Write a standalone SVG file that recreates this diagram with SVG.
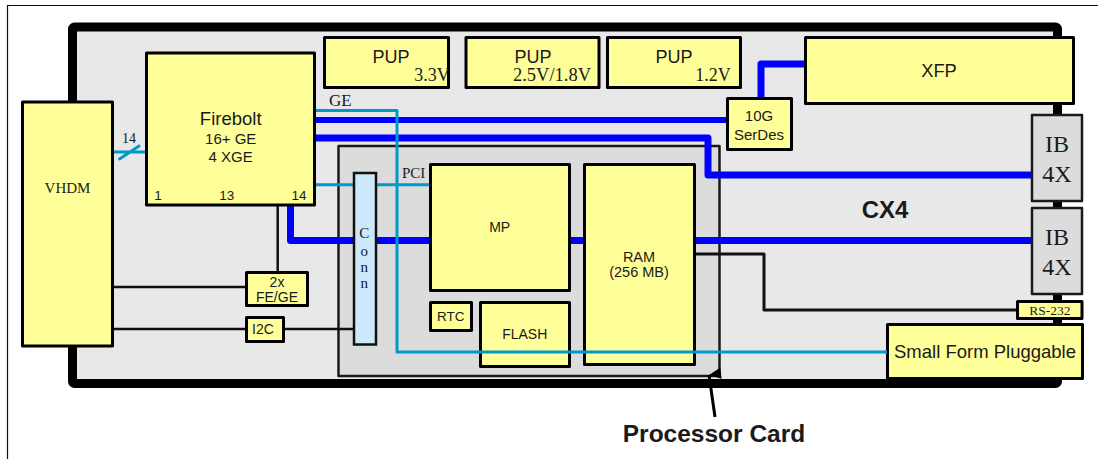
<svg xmlns="http://www.w3.org/2000/svg" width="1098" height="459" viewBox="0 0 1098 459">
<style>
.b{fill:#ffff99;stroke:#000;stroke-width:3;stroke-linejoin:round}
.g{fill:#dcdcdc;stroke:#1a1a1a;stroke-width:2.5;stroke-linejoin:round}
text{fill:#1a1a1a;text-anchor:middle;font-family:"Liberation Sans",Arial,sans-serif}
.s{font-family:"Liberation Serif","Times New Roman",serif}
.l{fill:none;stroke-linejoin:round}
.blue{stroke:#0000ff;stroke-width:7}
.cy{stroke:#0099cc;stroke-width:3}
.k{stroke:#111;stroke-width:2.5}
</style>
<defs><marker id="ah" markerUnits="userSpaceOnUse" markerWidth="12" markerHeight="14" refX="6" refY="0" orient="auto" overflow="visible"><path d="M-5.5 12L0 0L5.5 12Z" transform="translate(6 0)" fill="#000"/></marker></defs>
<rect width="1098" height="459" fill="#fff"/>
<path d="M7.5 459V5.5H1098" fill="none" stroke="#111" stroke-width="1.2"/>
<g id="board"><rect x="72.500" y="27" width="985" height="356.500" rx="2" fill="#e8e8e8" stroke="#000" stroke-width="9" stroke-linejoin="round"/>
<text x="885" y="218" font-size="24" font-weight="bold">CX4</text></g>
<g id="processor-card"><rect x="338.500" y="146" width="381" height="230" class="g" fill="#dcdcdc"/></g>
<g id="connectors">
<path class="l cy" d="M114 152H146"/>
<path d="M119.500 159L139 146" fill="none" stroke="#0099cc" stroke-width="3" stroke-linecap="round"/>
<path class="l cy" d="M316 184.700H430"/>
<path class="l blue" style="stroke-width:6" d="M316 120H727"/>
<path class="l blue" d="M316 138H708V175H1032"/>
<path class="l blue" d="M290.500 206V240.500H1032"/>
<path class="l blue" d="M761 98V64H805"/>
<path class="l k" d="M277.700 206V272"/>
<path class="l k" d="M114 287H246"/>
<path class="l k" d="M114 329H354"/>
<path class="l k" style="stroke-width:3" d="M695 254H764V310H1017"/>
<path d="M715 417L709 375" stroke="#000" stroke-width="3" fill="none" marker-end="url(#ah)"/>
</g>
<g id="vhdm"><rect class="b" x="22.500" y="102" width="90" height="244"/><text class="s" x="67.500" y="192.500" font-size="15">VHDM</text></g>
<g id="firebolt"><rect class="b" x="146.500" y="53" width="168" height="152"/>
<text x="230.700" y="125" font-size="18.500">Firebolt</text><text x="230.700" y="144" font-size="15">16+ GE</text><text x="230.700" y="162" font-size="15">4 XGE</text>
<text x="158" y="200" font-size="13.500">1</text><text x="226.700" y="200" font-size="13.500">13</text><text x="299" y="200" font-size="13.500">14</text></g>
<g id="pup1"><rect class="b" x="324.500" y="37.500" width="124" height="50"/><text x="391" y="63" font-size="18">PUP</text><text class="s" x="432" y="81" font-size="18">3.3V</text></g>
<g id="pup2"><rect class="b" x="466" y="37.500" width="133" height="50"/><text x="533" y="63" font-size="18">PUP</text><text class="s" x="552" y="81" font-size="18.500">2.5V/1.8V</text></g>
<g id="pup3"><rect class="b" x="607.500" y="37.500" width="133" height="50"/><text x="674" y="63" font-size="18">PUP</text><text class="s" x="713" y="81" font-size="18">1.2V</text></g>
<g id="xfp"><rect class="b" x="805.500" y="37.500" width="268" height="66"/><text x="939" y="77" font-size="18.300">XFP</text></g>
<g id="serdes"><rect class="b" x="727.500" y="98.500" width="64" height="51"/><text x="759" y="121" font-size="15">10G</text><text x="759" y="140" font-size="15">SerDes</text></g>
<g id="ib1"><rect class="g" x="1032" y="115" width="50" height="86"/><text class="s" x="1057" y="152" font-size="24">IB</text><text class="s" x="1057" y="182" font-size="24">4X</text></g>
<g id="ib2"><rect class="g" x="1032" y="208" width="50" height="86"/><text class="s" x="1057" y="245" font-size="24">IB</text><text class="s" x="1057" y="275" font-size="24">4X</text></g>
<g id="rs232"><rect class="b" x="1017.500" y="301.500" width="64.500" height="17"/><text class="s" x="1050" y="315" font-size="13.500">RS-232</text></g>
<g id="sfp"><rect class="b" x="887.500" y="324.500" width="195" height="54"/><text x="985" y="358" font-size="18.500">Small Form Pluggable</text></g>
<g id="fe-ge"><rect class="b" x="246.500" y="272.500" width="61" height="33"/><text x="277" y="287" font-size="14">2x</text><text x="277" y="302" font-size="14">FE/GE</text></g>
<g id="i2c"><rect class="b" x="246.500" y="317.500" width="37" height="24"/><text x="263" y="334" font-size="14">I2C</text></g>
<g id="conn"><rect x="354" y="173" width="22" height="171.500" fill="#cce8fb" stroke="#111" stroke-width="2.500"/>
<text class="s" x="364.300" y="238" font-size="15">C</text><text class="s" x="364.300" y="256" font-size="15">o</text><text class="s" x="364.300" y="272" font-size="15">n</text><text class="s" x="364.300" y="288" font-size="15">n</text></g>
<g id="mp"><rect class="b" x="430.500" y="164.500" width="139" height="126"/><text x="499.700" y="232" font-size="14">MP</text></g>
<g id="ram"><rect class="b" x="584.500" y="164.500" width="110" height="200"/><text x="639" y="262" font-size="14.500">RAM</text><text x="639" y="277" font-size="14.500">(256 MB)</text></g>
<g id="rtc"><rect class="b" x="430.500" y="302.500" width="41" height="28"/><text x="450.700" y="321" font-size="13.500">RTC</text></g>
<g id="flash"><rect class="b" x="480.500" y="302.500" width="89" height="64"/><text x="524.700" y="339" font-size="14">FLASH</text></g>
<g id="connectors-over"><path class="l cy" d="M316 110.500H397V352H887"/></g>
<text class="s" x="329" y="106" font-size="17" style="text-anchor:start">GE</text>
<text class="s" x="402" y="178" font-size="15" style="text-anchor:start">PCI</text>
<text class="s" x="129" y="142.500" font-size="14">14</text>
<text x="714" y="442" font-size="24.500" font-weight="bold">Processor Card</text>
</svg>
